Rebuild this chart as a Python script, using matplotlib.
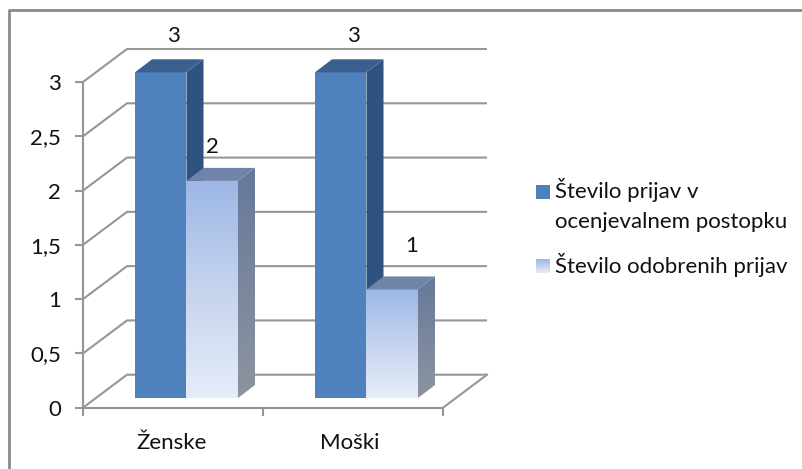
import numpy as np
import matplotlib
matplotlib.use('Agg')
import matplotlib.pyplot as plt
from matplotlib.patches import Polygon, Rectangle
from matplotlib.colors import LinearSegmentedColormap
from matplotlib.lines import Line2D

plt.rcParams['font.family'] = ['Lato', 'DejaVu Sans']

categories = ['Ženske', 'Moški']
postopek = [3, 3]
odobrene = [2, 1]
series_names = ['Število prijav v', 'ocenjevalnem postopku', 'Število odobrenih prijav']
y_ticks = [0, 0.5, 1, 1.5, 2, 2.5, 3]
y_labels = ['0', '0,5', '1', '1,5', '2', '2,5', '3']

W, H = 803, 469
FS = 16
TXT = '#111111'
fig = plt.figure(figsize=(W / 100, H / 100), dpi=100)

# outer frame, only left and top show in the picture
fig.add_artist(Line2D([8.5 / W, 8.5 / W, 1], [0, 1 - 10.5 / H, 1 - 10.5 / H],
                      transform=fig.transFigure, color='#8a8a8a', lw=2))

# axes = front plane of the 3d box
ax = fig.add_axes([83 / W, 1 - 407.7 / H, 360 / W, 325.7 / H])
ax.patch.set_alpha(0)

# depth of box and of the bars, in data units
dx_box, dy_box = 44 / 180, 33 / 108.6
dx_bar, dy_bar = 17 / 180, 13 / 108.6
bar_w = 51.5 / 180
bar_start = 52 / 180
floor = 9.7 / 108.6  # bars start a bit behind the front edge

grid = '#969696'
for v in y_ticks:
    ax.plot([0, dx_box, 2 + dx_box], [v, v + dy_box, v + dy_box], color=grid, lw=1.5,
            clip_on=False, zorder=1, solid_capstyle='butt')
ax.plot([2, 2 + dx_box], [0, dy_box], color=grid, lw=1.5, clip_on=False, zorder=1)

for s in ['top', 'right']:
    ax.spines[s].set_visible(False)
for s in ['left', 'bottom']:
    ax.spines[s].set_color(grid)
    ax.spines[s].set_linewidth(1.5)

ax.set_xticks([0, 1, 2])
ax.set_xticklabels([])
ax.set_xticks([0.49, 1.48], minor=True)
ax.set_xticklabels(categories, minor=True, fontsize=FS, color=TXT)
ax.tick_params(axis='x', which='major', length=6, width=1.5, color=grid)
ax.tick_params(axis='x', which='minor', length=0, pad=18)
ax.set_yticks(y_ticks)
ax.set_yticklabels(y_labels, fontsize=FS, color=TXT)
ax.tick_params(axis='y', length=6, width=1.5, color=grid, pad=10)

cm_front = LinearSegmentedColormap.from_list('f', ['#e6edf8', '#c5d3ee', '#9db7e6'])
cm_side = LinearSegmentedColormap.from_list('s', ['#8d949f', '#66789a'])


def gradient(poly, cmap, y0, y1, x0, x1, z):
    im = ax.imshow(np.linspace(0, 1, 200).reshape(-1, 1), origin='lower', cmap=cmap, vmin=0, vmax=1,
                   extent=[x0, x1, y0, y1], aspect='auto', zorder=z)
    p = Polygon(poly, closed=True, fc='none', ec='none', clip_on=False)
    ax.add_patch(p)
    im.set_clip_path(p)


def bar3d(x, v, solid, z):
    y0 = floor
    y1 = y0 + v
    front = [(x, y0), (x + bar_w, y0), (x + bar_w, y1), (x, y1)]
    side = [(x + bar_w, y0), (x + bar_w + dx_bar, y0 + dy_bar), (x + bar_w + dx_bar, y1 + dy_bar), (x + bar_w, y1)]
    top = [(x, y1), (x + bar_w, y1), (x + bar_w + dx_bar, y1 + dy_bar), (x + dx_bar, y1 + dy_bar)]
    if solid:
        ax.add_patch(Polygon(front, fc='#4f81bd', ec='none', zorder=z, clip_on=False))
        ax.add_patch(Polygon(side, fc='#2f5280', ec='none', zorder=z, clip_on=False))
        ax.add_patch(Polygon(top, fc='#3b6090', ec='none', zorder=z, clip_on=False))
    else:
        gradient(front, cm_front, y0, y1, x, x + bar_w, z)
        gradient(side, cm_side, y0, y1 + dy_bar, x + bar_w, x + bar_w + dx_bar, z)
        ax.add_patch(Polygon(top, fc='#6f84a8', ec='none', zorder=z, clip_on=False))


label_off = [0.40, 0.49]
label_pos = [0.5, 0.88]
for i, cat in enumerate(categories):
    x = i + bar_start
    bar3d(x, postopek[i], True, 3)
    ax.text(x + bar_w * 0.75, postopek[i] + 0.42, str(postopek[i]), ha='center', va='center', fontsize=FS,
            color=TXT, clip_on=False, zorder=6)
    x2 = x + bar_w
    bar3d(x2, odobrene[i], False, 4)
    ax.text(x2 + bar_w * label_pos[i], odobrene[i] + label_off[i], str(odobrene[i]), ha='center', va='center',
            fontsize=FS, color=TXT, clip_on=False, zorder=6)
ax.set_xlim(0, 2)
ax.set_ylim(0, 3)

# legend
lax = fig.add_axes([0, 0, 1, 1])
lax.axis('off')
lax.add_patch(Rectangle((536, 185), 14, 14, fc='#4f81bd', ec='none'))
lax.imshow(np.linspace(0, 1, 50).reshape(-1, 1), cmap=LinearSegmentedColormap.from_list('l', ['#9db7e6', '#e6edf8']),
           extent=[536, 550, 273, 259], aspect='auto', origin='upper')
lax.set_xlim(0, W)
lax.set_ylim(H, 0)
lax.text(555, 190, series_names[0], fontsize=FS, va='center', color=TXT)
lax.text(555, 222, series_names[1], fontsize=FS, va='center', color=TXT)
lax.text(555, 265, series_names[2], fontsize=FS, va='center', color=TXT)

fig.savefig('out.png', dpi=100)
